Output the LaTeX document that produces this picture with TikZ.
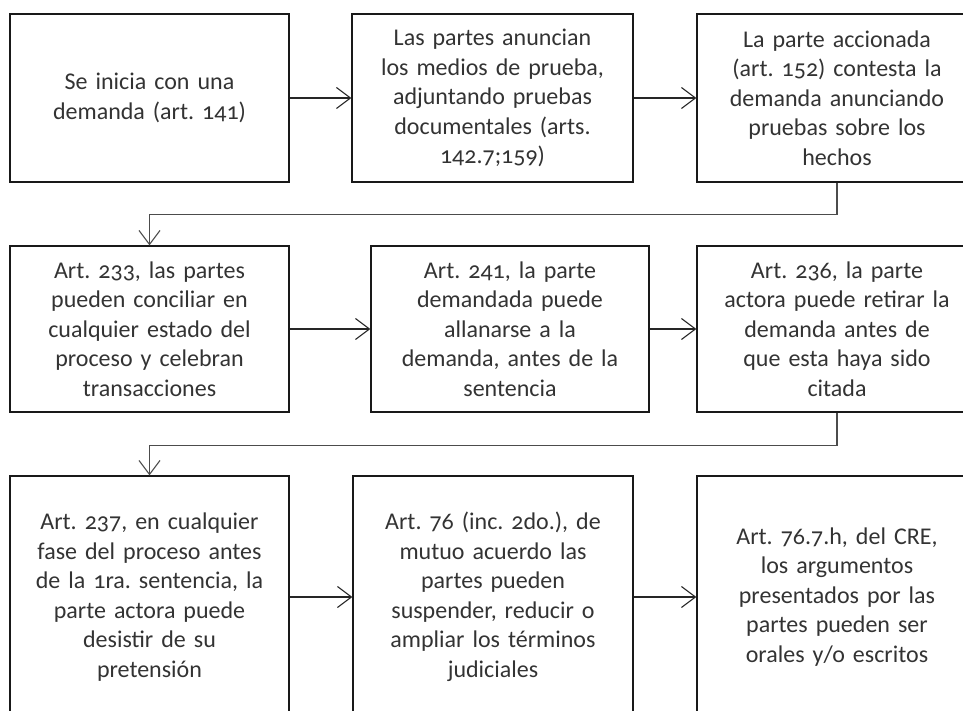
\documentclass[tikz,border=0pt]{standalone}
\usepackage{fontspec}
\setmainfont{Carlito}[Numbers=OldStyle]
\usepackage{tikz}
\usetikzlibrary{arrows.meta}

\definecolor{texto}{HTML}{333333}
\frenchspacing

\tikzset{
	paso/.style={draw=black!90, line width=1.3pt, minimum width=280pt, minimum height=168pt, text width=272pt, align=center, inner sep=0pt, text=texto, font=\fontsize{24}{29.5}\selectfont},
	flecha/.style={-{Straight Barb[length=14pt, width=21pt, line width=1.1pt]}, line width=1.1pt, color=black!85},
	codo/.style={flecha, color=black!70}
}

\begin{document}
\begin{tikzpicture}[x=1pt, y=-1pt]
		\useasboundingbox (0,0) rectangle (963,711);
		\clip (0,0) rectangle (963,711);

		\node[paso, minimum width=279pt] (inicio) at (149.5,98) {Se inicia con una\\ demanda (art. 141)};
		\node[paso, minimum width=281pt] (anuncio) at (492.5,98) {Las partes anuncian\\ los medios de prueba,\\ adjuntando pruebas\\ documentales (arts.\\ 142.7;159)};
		\node[paso] (contesta) at (837,98) {La parte accionada\\ (art. 152) contesta la\\ demanda anunciando\\ pruebas sobre los\\ hechos};

		\node[paso, minimum width=279pt, minimum height=166pt] (concilia) at (149.5,329) {Art. 233, las partes\\ pueden conciliar en\\ cualquier estado del\\ proceso y celebran\\ transacciones};
		\node[paso, minimum width=278pt, minimum height=166pt] (allana) at (510,329) {Art. 241, la parte\\ demandada puede\\ allanarse a la\\ demanda, antes de la\\ sentencia};
		\node[paso, minimum height=166pt] (retira) at (837,329) {Art. 236, la parte\\ actora puede retirar la\\ demanda antes de\\ que esta haya sido\\ citada};

		\node[paso, minimum width=279pt, minimum height=242pt] (desiste) at (149.5,597) {Art. 237, en cualquier\\ fase del proceso antes\\ de la 1ra. sentencia, la\\ parte actora puede\\ desistir de su\\ pretensión};
		\node[paso, minimum height=242pt] (suspende) at (493,597) {Art. 76 (inc. 2do.), de\\ mutuo acuerdo las\\ partes pueden\\ suspender, reducir o\\ ampliar los términos\\ judiciales};
		\node[paso, minimum height=242pt] (cre) at (837,597) {Art. 76.7.h, del CRE,\\ los argumentos\\ presentados por las\\ partes pueden ser\\ orales y/o escritos};

		\draw[flecha] (inicio) -- (anuncio);
		\draw[flecha] (anuncio) -- (contesta);
		\draw[codo] (contesta.south) -- ++(0,32) -| (concilia.north);
		\draw[flecha] (concilia) -- (allana);
		\draw[flecha] (allana) -- (retira);
		\draw[codo] (retira.south) -- ++(0,33) -| (desiste.north);
		\draw[flecha] (desiste) -- (suspende);
		\draw[flecha] (suspende) -- (cre);
	\end{tikzpicture}
\end{document}
